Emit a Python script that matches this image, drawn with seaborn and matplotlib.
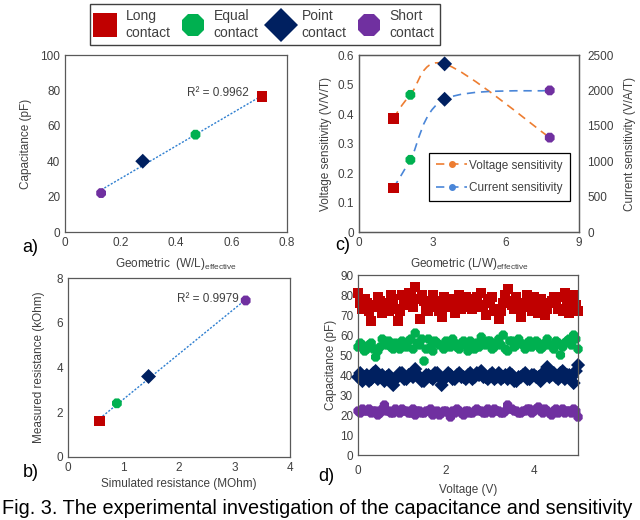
import numpy as np
import pandas as pd
import matplotlib
matplotlib.use('Agg')
import matplotlib.pyplot as plt
from matplotlib.lines import Line2D
from matplotlib.path import Path
from matplotlib.patches import PathPatch
import seaborn as sns

# ---- data ----
contacts = ['Long contact', 'Equal contact', 'Point contact', 'Short contact']
legend_labels = ['Long\ncontact', 'Equal\ncontact', 'Point\ncontact', 'Short\ncontact']
colors = {'Long contact': '#C00000', 'Equal contact': '#00B050',
          'Point contact': '#002060', 'Short contact': '#7030A0'}
markers = {'Long contact': 's', 'Equal contact': '8',
           'Point contact': 'D', 'Short contact': '8'}

# a) capacitance vs geometric W/L
geom_wl = [0.71, 0.47, 0.28, 0.13]
cap_mean = [76.5, 55.0, 40.0, 22.0]

# b) measured vs simulated resistance
sim_res = [0.57, 0.88, 1.45, 3.20]
meas_res = [1.6, 2.4, 3.6, 7.0]

# c) sensitivity vs geometric L/W
geom_lw = [1.4, 2.1, 3.5, 7.8]
volt_sens = [0.385, 0.465, 0.57, 0.32]
curr_sens = [620, 1020, 1875, 2000]

# d) capacitance vs voltage sweep (0 .. 5 V, 0.05 V step)
voltage = np.round(np.arange(101) * 0.05, 2)
cap_long = [81, 76, 73, 78, 76, 72, 67, 74, 75, 79, 77, 71, 74, 76, 72, 80, 78, 73, 67, 72,
            80, 77, 75, 81, 79, 74, 84, 78, 68, 80, 77, 73, 72, 76, 80, 77, 74, 72, 69, 79,
            77, 74, 75, 78, 71, 76, 80, 73, 74, 79, 78, 75, 73, 77, 79, 74, 81, 75, 70, 76,
            78, 79, 72, 73, 68, 72, 76, 80, 83, 77, 75, 73, 79, 74, 69, 76, 74, 80, 77, 72,
            79, 74, 71, 78, 75, 70, 73, 76, 77, 79, 76, 73, 79, 72, 81, 77, 71, 76, 80, 75,
            72]
cap_equal = [54, 56, 55, 52, 53, 55, 56, 53, 49, 52, 54, 58, 57, 55, 57, 54, 53, 56, 55, 53,
             57, 55, 54, 57, 58, 53, 61, 56, 55, 58, 47, 53, 58, 54, 52, 57, 56, 55, 55, 53,
             57, 56, 54, 58, 56, 54, 53, 56, 57, 55, 52, 57, 55, 53, 56, 54, 59, 56, 55, 57,
             57, 53, 54, 56, 58, 55, 60, 53, 52, 57, 57, 54, 55, 58, 56, 55, 53, 56, 57, 54,
             55, 57, 56, 53, 54, 56, 58, 55, 55, 53, 57, 56, 50, 54, 56, 57, 58, 55, 60, 58,
             53]
cap_point = [39, 41, 37, 39, 40, 37, 38, 41, 42, 38, 39, 40, 37, 39, 40, 38, 35, 38, 39, 41,
             41, 38, 38, 40, 40, 39, 43, 40, 39, 37, 37, 40, 40, 39, 38, 41, 41, 39, 35, 38,
             39, 41, 40, 38, 38, 40, 41, 39, 39, 38, 40, 41, 38, 39, 41, 40, 42, 39, 39, 38,
             40, 41, 38, 39, 41, 38, 39, 40, 38, 41, 40, 37, 37, 39, 39, 40, 41, 38, 38, 40,
             40, 39, 39, 37, 41, 40, 44, 39, 40, 41, 39, 38, 41, 42, 38, 40, 40, 39, 36, 42,
             45]
cap_short = [22, 21, 23, 22, 22, 23, 21, 22, 22, 20, 21, 23, 25, 22, 22, 21, 21, 23, 22, 21,
             23, 22, 22, 21, 21, 23, 20, 22, 22, 21, 21, 22, 22, 23, 20, 21, 22, 20, 21, 22,
             22, 21, 19, 22, 21, 23, 22, 21, 20, 22, 22, 21, 21, 22, 23, 22, 22, 21, 21, 23,
             22, 21, 23, 22, 22, 21, 21, 22, 25, 23, 23, 22, 22, 21, 21, 22, 22, 23, 23, 21,
             22, 23, 24, 22, 21, 23, 22, 21, 20, 22, 23, 21, 22, 23, 21, 22, 22, 21, 23, 22,
             19]

caption = 'Fig. 3. The experimental investigation of the capacitance and sensitivity'

# ---- style ----
sns.set_theme(style='white')
plt.rcParams['font.family'] = ['Liberation Sans', 'DejaVu Sans']
plt.rcParams['mathtext.default'] = 'regular'
plt.rcParams['axes.edgecolor'] = '#595959'
plt.rcParams['axes.linewidth'] = 0.9
plt.rcParams['xtick.major.size'] = 0
plt.rcParams['ytick.major.size'] = 0
plt.rcParams['xtick.labelsize'] = 8.5
plt.rcParams['ytick.labelsize'] = 8.5
plt.rcParams['axes.labelsize'] = 8.5
plt.rcParams['text.color'] = '#404040'
plt.rcParams['axes.labelcolor'] = '#404040'
plt.rcParams['xtick.color'] = '#404040'
plt.rcParams['ytick.color'] = '#404040'

fig = plt.figure(figsize=(6.4, 5.2), dpi=100)
ax_a = fig.add_axes([0.1016, 0.5538, 0.347, 0.3404])
ax_c = fig.add_axes([0.561, 0.5538, 0.3438, 0.3404])
ax_b = fig.add_axes([0.1063, 0.1212, 0.347, 0.344])
ax_d = fig.add_axes([0.5594, 0.125, 0.3438, 0.346])


def fmt(v):
    return '%g' % v


def contact_scatter(ax, x, y, s=58):
    df = pd.DataFrame({'x': x, 'y': y, 'contact': contacts})
    sns.scatterplot(data=df, x='x', y='y', hue='contact', style='contact',
                    palette=colors, markers=markers, s=s, linewidth=0,
                    legend=False, ax=ax, zorder=5, clip_on=False)


def smooth_line(ax, x, y, **kw):
    # Excel-like smoothed connector (cubic Bezier through the data points)
    p = np.column_stack([x, y]).astype(float)
    ext = np.vstack([p[0], p, p[-1]])
    verts = [p[0]]
    codes = [Path.MOVETO]
    for i in range(len(p) - 1):
        c1 = ext[i + 1] + (ext[i + 2] - ext[i]) / 6
        c2 = ext[i + 2] - (ext[i + 3] - ext[i + 1]) / 6
        verts += [c1, c2, ext[i + 2]]
        codes += [Path.CURVE4] * 3
    ax.add_patch(PathPatch(Path(verts, codes), fill=False, **kw))


# a)
sns.regplot(x=geom_wl, y=cap_mean, ax=ax_a, scatter=False, ci=None, truncate=True,
            line_kws=dict(color='#2E7FD0', lw=1.0, ls=(0, (1.5, 1.2))))
contact_scatter(ax_a, geom_wl, cap_mean)
ax_a.set_xlim(0, 0.8)
ax_a.set_ylim(0, 100)
ax_a.set_xticks(np.arange(0, 0.81, 0.2))
ax_a.set_yticks(np.arange(0, 101, 20))
ax_a.set_xticklabels([fmt(v) for v in np.round(np.arange(0, 0.81, 0.2), 1)])
ax_a.set_xlabel('Geometric  (W/L)$_{effective}$', labelpad=5)
ax_a.set_ylabel('Capacitance (pF)', labelpad=6)
ax_a.text(0.44, 78.5, 'R² = 0.9962', fontsize=8.5, va='center', ha='left')

# b)
sns.regplot(x=sim_res, y=meas_res, ax=ax_b, scatter=False, ci=None, truncate=True,
            line_kws=dict(color='#2E7FD0', lw=1.0, ls=(0, (1.5, 1.2))))
contact_scatter(ax_b, sim_res, meas_res)
ax_b.set_xlim(0, 4)
ax_b.set_ylim(0, 8)
ax_b.set_xticks(range(0, 5))
ax_b.set_yticks(range(0, 9, 2))
ax_b.set_xlabel('Simulated resistance (MOhm)', labelpad=3)
ax_b.set_ylabel('Measured resistance (kOhm)', labelpad=8)
ax_b.text(1.96, 7.05, 'R² = 0.9979', fontsize=8.5, va='center', ha='left')

# c)
ax_c2 = ax_c.twinx()
smooth_line(ax_c, geom_lw, volt_sens, edgecolor='#ED7D31', lw=1.2, ls=(0, (5, 3.5)))
smooth_line(ax_c2, geom_lw, curr_sens, edgecolor='#4A86D8', lw=1.2, ls=(0, (5, 3.5)))
contact_scatter(ax_c, geom_lw, volt_sens)
contact_scatter(ax_c2, geom_lw, curr_sens)
ax_c.set_xlim(0, 9)
ax_c.set_ylim(0, 0.6)
ax_c2.set_ylim(0, 2500)
ax_c.set_xticks([0, 3, 6, 9])
ax_c.set_yticks(np.arange(0, 0.61, 0.1))
ax_c.set_yticklabels([fmt(v) for v in np.round(np.arange(0, 0.61, 0.1), 1)])
ax_c2.set_yticks(range(0, 2501, 500))
ax_c2.tick_params(axis='y', length=0, labelsize=8.5, colors='#404040', pad=6)
ax_c.set_xlabel('Geometric (L/W)$_{effective}$', labelpad=5)
ax_c.set_ylabel('Voltage sensitivity (V/V/T)')
ax_c2.set_ylabel('Current sensitivity (V/A/T)', labelpad=7)
sens_handles = [
    Line2D([], [], color='#ED7D31', ls=(0, (5, 3.5)), lw=1.2, marker='o', markersize=4),
    Line2D([], [], color='#4A86D8', ls=(0, (5, 3.5)), lw=1.2, marker='o', markersize=4),
]
leg_c = ax_c2.legend(sens_handles, ['Voltage sensitivity', 'Current sensitivity'],
                     loc='lower right', bbox_to_anchor=(0.985, 0.14), fontsize=8.5,
                     fancybox=False, edgecolor='#000000', framealpha=1,
                     handlelength=2.6, numpoints=1, borderpad=0.6, labelspacing=0.9,
                     handletextpad=0.2)
leg_c.get_frame().set_linewidth(0.9)

# d)
df_d = pd.DataFrame({
    'Voltage': np.tile(voltage, 4),
    'Capacitance': np.concatenate([cap_long, cap_equal, cap_point, cap_short]),
    'contact': np.repeat(contacts, len(voltage)),
})
sns.scatterplot(data=df_d, x='Voltage', y='Capacitance', hue='contact', style='contact',
                palette=colors, markers=markers, s=52, linewidth=0, legend=False,
                ax=ax_d, clip_on=False)
ax_d.set_xlim(0, 5)
ax_d.set_ylim(0, 90)
ax_d.set_xticks([0, 2, 4])
ax_d.set_yticks(range(0, 91, 10))
ax_d.tick_params(axis='x', pad=7)
ax_d.set_xlabel('Voltage (V)', labelpad=5)
ax_d.set_ylabel('Capacitance (pF)', labelpad=2)

# panel letters
for lbl, x, y in [('a)', 0.034, 0.525), ('b)', 0.036, 0.092),
                  ('c)', 0.524, 0.528), ('d)', 0.497, 0.083)]:
    fig.text(x, y, lbl, fontsize=13, color='#000000', va='center')

# shared contact legend
handles = [Line2D([], [], ls='none', marker=markers[c], color=colors[c], markersize=17,
                  markeredgewidth=0) for c in contacts]
leg = fig.legend(handles, legend_labels, loc='center', bbox_to_anchor=(0.414, 0.953),
                 ncol=4, fontsize=10, fancybox=False, edgecolor='#404040',
                 framealpha=1, handletextpad=0.8, columnspacing=0.9,
                 borderpad=0.4, handlelength=1.4)
leg.get_frame().set_linewidth(1.0)

fig.text(0.003, 0.022, caption, fontsize=14.3, color='#000000', va='center', ha='left')

fig.savefig('out.png', dpi=100)
